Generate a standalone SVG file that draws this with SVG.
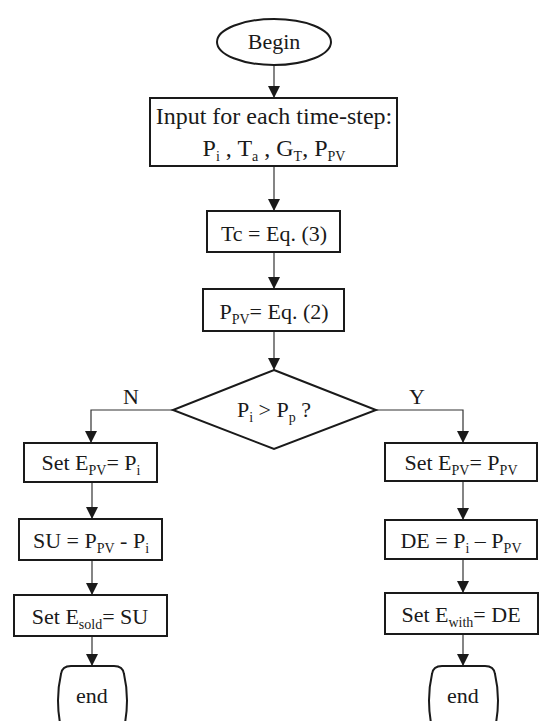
<svg xmlns="http://www.w3.org/2000/svg" width="541" height="721" viewBox="0 0 541 721">
  <style>
    .shape { fill: #ffffff; stroke: #1a1a1a; stroke-width: 2; }
    .link { fill: none; stroke: #333333; stroke-width: 1.2; }
    text { font-family: "Liberation Serif", "Times New Roman", serif; font-size: 22px; fill: #1a1a1a; text-anchor: middle; }
    .big { font-size: 24px; }
    .sub { font-size: 14px; }
  </style>
  <defs>
    <marker id="arrow" markerUnits="userSpaceOnUse" markerWidth="12" markerHeight="12" viewBox="0 0 12 12" refX="12" refY="6" orient="auto">
      <path d="M0,0 L12,6 L0,12 Z" fill="#1a1a1a"/>
    </marker>
  </defs>

  <rect width="541" height="721" fill="#ffffff"/>

  <!-- connectors -->
  <g id="connectors" class="link" marker-end="url(#arrow)">
    <line x1="274" y1="65" x2="274" y2="98"/>
    <line x1="274" y1="166" x2="274" y2="211"/>
    <line x1="274" y1="252" x2="274" y2="289"/>
    <line x1="274" y1="331" x2="274" y2="370"/>
    <polyline points="173,410 91,410 91,443"/>
    <polyline points="376,410 463,410 463,443"/>
    <line x1="92" y1="482" x2="92" y2="519"/>
    <line x1="92" y1="560" x2="92" y2="595"/>
    <line x1="92" y1="636" x2="92" y2="666"/>
    <line x1="463" y1="481" x2="463" y2="520"/>
    <line x1="463" y1="559" x2="463" y2="593"/>
    <line x1="463" y1="634" x2="463" y2="666"/>
  </g>

  <!-- branch labels -->
  <text x="131" y="404">N</text>
  <text x="417" y="404">Y</text>

  <g id="begin">
    <ellipse class="shape" cx="274" cy="42" rx="57" ry="23"/>
    <text x="274" y="49">Begin</text>
  </g>

  <g id="input">
    <rect class="shape" x="150" y="98" width="247" height="68"/>
    <text class="big" x="274" y="124">Input for each time-step:</text>
    <text class="big" x="274" y="156">P<tspan class="sub" dy="5">i</tspan><tspan dy="-5"> , T</tspan><tspan class="sub" dy="5">a</tspan><tspan dy="-5"> , G</tspan><tspan class="sub" dy="5">T</tspan><tspan dy="-5">, P</tspan><tspan class="sub" dy="5">PV</tspan></text>
  </g>

  <g id="tc">
    <rect class="shape" x="207" y="211" width="133" height="41"/>
    <text x="274" y="241">Tc = Eq. (3)</text>
  </g>

  <g id="ppv">
    <rect class="shape" x="203" y="289" width="141" height="42"/>
    <text x="274" y="319">P<tspan class="sub" dy="5">PV</tspan><tspan dy="-5">= Eq. (2)</tspan></text>
  </g>

  <g id="decision">
    <polygon class="shape" points="274,370 376,410 274,449 173,410"/>
    <text x="274" y="417">P<tspan class="sub" dy="5">i</tspan><tspan dy="-5"> &gt; P</tspan><tspan class="sub" dy="5">p</tspan><tspan dy="-5"> ?</tspan></text>
  </g>

  <!-- N branch -->
  <g id="set-epv-pi">
    <rect class="shape" x="24" y="443" width="133" height="39"/>
    <text x="91" y="470">Set E<tspan class="sub" dy="5">PV</tspan><tspan dy="-5">= P</tspan><tspan class="sub" dy="5">i</tspan></text>
  </g>

  <g id="su">
    <rect class="shape" x="19" y="519" width="143" height="41"/>
    <text x="91" y="548">SU = P<tspan class="sub" dy="5">PV</tspan><tspan dy="-5"> - P</tspan><tspan class="sub" dy="5">i</tspan></text>
  </g>

  <g id="set-esold">
    <rect class="shape" x="14" y="595" width="153" height="41"/>
    <text x="90" y="624">Set E<tspan class="sub" dy="5">sold</tspan><tspan dy="-5">= SU</tspan></text>
  </g>

  <g id="end-n">
    <path class="shape" d="M71,666 H114 Q123,666 124,674 Q130,700 124,728 H61 Q55,700 61,674 Q62,666 71,666 Z"/>
    <text x="92" y="703">end</text>
  </g>

  <!-- Y branch -->
  <g id="set-epv-ppv">
    <rect class="shape" x="385" y="443" width="152" height="38"/>
    <text x="461" y="470">Set E<tspan class="sub" dy="5">PV</tspan><tspan dy="-5">= P</tspan><tspan class="sub" dy="5">PV</tspan></text>
  </g>

  <g id="de">
    <rect class="shape" x="385" y="520" width="152" height="39"/>
    <text x="461" y="548">DE = P<tspan class="sub" dy="5">i</tspan><tspan dy="-5"> – P</tspan><tspan class="sub" dy="5">PV</tspan></text>
  </g>

  <g id="set-ewith">
    <rect class="shape" x="385" y="593" width="153" height="41"/>
    <text x="461" y="622">Set E<tspan class="sub" dy="5">with</tspan><tspan dy="-5">= DE</tspan></text>
  </g>

  <g id="end-y">
    <path class="shape" d="M442,666 H485 Q494,666 495,674 Q501,700 495,728 H432 Q426,700 432,674 Q433,666 442,666 Z"/>
    <text x="463" y="703">end</text>
  </g>
</svg>
